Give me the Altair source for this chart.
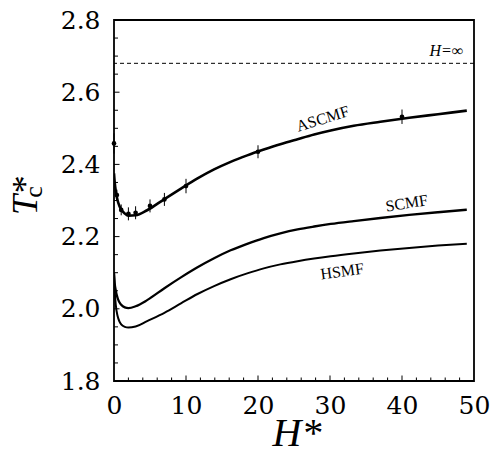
import altair as alt
import pandas as pd

# ---- data ----
H_curve = [0, 0.1, 0.25, 0.5, 0.75, 1, 1.5, 2, 3, 4.6, 7, 9.3, 11.6, 13.9, 16.2,
           18.5, 20.8, 23.1, 25.5, 27.8, 30.1, 33.3, 37, 41, 45, 49]
T_ascmf = [2.375, 2.35, 2.325, 2.30, 2.285, 2.275, 2.264, 2.258, 2.259, 2.273, 2.304,
           2.333, 2.361, 2.386, 2.407, 2.425, 2.441, 2.456, 2.470, 2.483, 2.494, 2.507,
           2.518, 2.529, 2.539, 2.549]
T_scmf = [2.10, 2.07, 2.05, 2.03, 2.018, 2.011, 2.004, 2.002, 2.007, 2.024, 2.057,
          2.087, 2.115, 2.140, 2.162, 2.180, 2.196, 2.209, 2.220, 2.228, 2.235, 2.243,
          2.2515, 2.260, 2.2675, 2.2745]
T_hsmf = [2.10, 2.05, 2.01, 1.98, 1.965, 1.957, 1.95, 1.948, 1.951, 1.966, 1.989,
          2.015, 2.041, 2.063, 2.082, 2.098, 2.112, 2.123, 2.132, 2.1394, 2.1458, 2.1535,
          2.1613, 2.1687, 2.1752, 2.1805]

H_sim = [0, 0.4, 1, 2, 3, 5, 7, 10, 20, 40]
T_sim = [2.458, 2.315, 2.274, 2.263, 2.266, 2.285, 2.303, 2.340, 2.435, 2.532]
T_err = [0.028, 0.015, 0.015, 0.018, 0.018, 0.018, 0.018, 0.02, 0.018, 0.02]

T_inf = 2.68

x_labels = [0, 10, 20, 30, 40, 50]
y_labels = [1.8, 2.0, 2.2, 2.4, 2.6, 2.8]
x_minor = [v for v in range(2, 50, 2) if v % 10 != 0]
x_major = [10, 20, 30, 40]
y_minor = [1.85, 1.9, 1.95, 2.05, 2.1, 2.15, 2.25, 2.3, 2.35, 2.45, 2.5, 2.55,
           2.65, 2.7, 2.75]
y_major = [2.0, 2.2, 2.4, 2.6]

curve_names = ["ASCMF", "SCMF", "HSMF"]
label_H = [29.0, 40.65, 31.7]
label_T = [2.526, 2.292, 2.103]
label_angle = [343, 351, 352]

# ---- tables ----
curves = pd.DataFrame({
    "H": H_curve * 3,
    "T": T_ascmf + T_scmf + T_hsmf,
    "model": ["ASCMF"] * len(H_curve) + ["SCMF"] * len(H_curve) + ["HSMF"] * len(H_curve),
})
sim = pd.DataFrame({"H": H_sim, "T": T_sim,
                    "lo": [t - e for t, e in zip(T_sim, T_err)],
                    "hi": [t + e for t, e in zip(T_sim, T_err)]})
labels = pd.DataFrame({"H": label_H, "T": label_T, "text": curve_names, "angle": label_angle})

W, Hh = 360, 361
xs = alt.Scale(domain=[0, 50], nice=False, zero=False)
ys = alt.Scale(domain=[1.8, 2.8], nice=False, zero=False)

x_axis = alt.Axis(values=x_labels, format="d", title=None, ticks=False, tickSize=0,
                  domain=False, grid=False, labelFont="DejaVu Serif", labelFontSize=25,
                  labelColor="black", labelPadding=12, labelFlush=False,
                  labelOverlap=False, labelBound=False)
y_axis = alt.Axis(values=y_labels, format=".1f", title=None, ticks=False, tickSize=0,
                  domain=False, grid=False, labelFont="DejaVu Serif", labelFontSize=25,
                  labelColor="black", labelPadding=14, labelFlush=False,
                  labelOverlap=False, labelBound=False)


def X(field):
    return alt.X(field, type="quantitative", scale=xs, axis=x_axis)


def Y(field):
    return alt.Y(field, type="quantitative", scale=ys, axis=y_axis)


base_curves = alt.Chart(curves).mark_line(color="black", interpolate="monotone", clip=True).encode(
    x=X("H"), y=Y("T"),
    detail="model:N",
    strokeWidth=alt.StrokeWidth("model:N", scale=alt.Scale(domain=curve_names, range=[2.6, 2.0, 1.3]), legend=None),
)

errbars = alt.Chart(sim).mark_rule(color="black", strokeWidth=1).encode(
    x=X("H"), y=Y("lo"), y2="hi")
points = alt.Chart(sim).mark_circle(color="black", opacity=1, size=22).encode(
    x=X("H"), y=Y("T"))

inf_line = alt.Chart(pd.DataFrame({"T": [T_inf]})).mark_rule(
    color="black", strokeWidth=1, strokeDash=[4, 3]).encode(y=Y("T"))
inf_text = alt.Chart(pd.DataFrame({"H": [48.5], "T": [T_inf + 0.02]})).mark_text(
    text="H=∞", font="Liberation Serif", fontStyle="italic", fontSize=16,
    align="right", baseline="alphabetic", color="black").encode(x=X("H"), y=Y("T"))

curve_labels = alt.Chart(labels).mark_text(
    font="Liberation Serif", fontSize=16, color="black", align="center",
    baseline="middle").encode(x=X("H"), y=Y("T"), text="text:N", angle=alt.Angle("angle:Q", scale=None))

# inward ticks
xt_minor = alt.Chart(pd.DataFrame({"v": x_minor})).mark_rule(color="black", strokeWidth=1).encode(
    x=X("v"), y=alt.value(Hh), y2=alt.value(Hh - 3.5))
xt_major = alt.Chart(pd.DataFrame({"v": x_major})).mark_rule(color="black", strokeWidth=1).encode(
    x=X("v"), y=alt.value(Hh), y2=alt.value(Hh - 5.5))
yt_minor = alt.Chart(pd.DataFrame({"v": y_minor})).mark_rule(color="black", strokeWidth=1).encode(
    y=Y("v"), x=alt.value(0), x2=alt.value(4))
yt_major = alt.Chart(pd.DataFrame({"v": y_major})).mark_rule(color="black", strokeWidth=1).encode(
    y=Y("v"), x=alt.value(0), x2=alt.value(5.5))

# axis titles
x_title = alt.Chart(pd.DataFrame({"t": ["H*"]})).mark_text(
    font="Liberation Serif", fontStyle="italic", fontSize=40, color="black",
    align="center", baseline="alphabetic").encode(text="t:N", x=alt.value(183), y=alt.value(426))
y_title = alt.Chart(pd.DataFrame({"t": ["T*"]})).mark_text(
    font="Liberation Serif", fontStyle="italic", fontSize=36, color="black",
    align="center", baseline="alphabetic", angle=270).encode(text="t:N", x=alt.value(-77), y=alt.value(176))
y_sub = alt.Chart(pd.DataFrame({"t": ["c"]})).mark_text(
    font="Liberation Serif", fontSize=26, color="black",
    align="center", baseline="alphabetic", angle=270).encode(text="t:N", x=alt.value(-72), y=alt.value(172))

chart = alt.layer(
    base_curves, errbars, points, inf_line, inf_text, curve_labels,
    xt_minor, xt_major, yt_minor, yt_major, x_title, y_title, y_sub,
).properties(
    width=W, height=Hh,
    autosize=alt.AutoSizeParams(type="none"),
    padding={"left": 114, "top": 20, "right": 18, "bottom": 73},
    background="white",
).configure_view(stroke="black", strokeWidth=1.8)

chart.save("out.html", embed_options={"renderer": "svg", "actions": False})
